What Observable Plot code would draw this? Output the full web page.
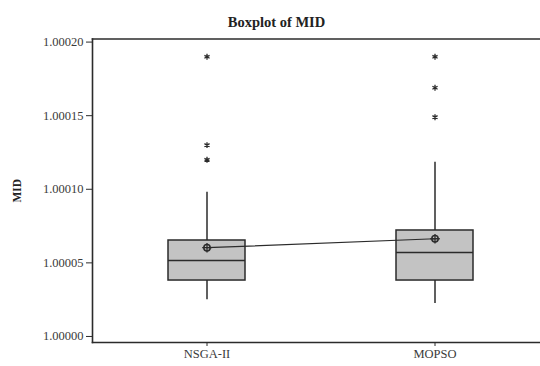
<!DOCTYPE html>
<html>
<head>
<meta charset="utf-8">
<script src="https://cdn.jsdelivr.net/npm/d3@7"></script>
<script src="https://cdn.jsdelivr.net/npm/@observablehq/plot@0.6"></script>
<style>
  html, body { margin: 0; padding: 0; background: #fff; }
  #chart svg { display: block; }
</style>
</head>
<body>
<div id="chart"></div>
<script>
const categories = ["NSGA-II", "MOPSO"];
const q1 = [1.0000380, 1.0000380];
const median = [1.0000516, 1.0000571];
const q3 = [1.0000652, 1.0000720];
const whiskerLow = [1.0000250, 1.0000224];
const whiskerHigh = [1.0000980, 1.0001184];
const means = [1.0000603, 1.0000664];
const outlierCategory = ["NSGA-II", "NSGA-II", "NSGA-II", "MOPSO", "MOPSO", "MOPSO"];
const outlierValue = [1.000190, 1.000130, 1.000120, 1.000190, 1.000169, 1.000149];
const yTicks = [1.00000, 1.00005, 1.00010, 1.00015, 1.00020];
const title = "Boxplot of MID";
const yLabel = "MID";

const stats = categories.map((c, i) => ({
  name: c, q1: q1[i], median: median[i], q3: q3[i],
  lo: whiskerLow[i], hi: whiskerHigh[i], mean: means[i]
}));
const outliers = outlierCategory.map((c, i) => ({name: c, value: outlierValue[i]}));

const ink = "#2b2b2b";
const chart = Plot.plot({
  width: 540,
  height: 366,
  marginTop: 38.5,
  marginBottom: 24,
  marginLeft: 92,
  marginRight: 0,
  style: {fontFamily: "'Liberation Serif', 'Times New Roman', serif", fontSize: "12.5px", color: "#3a3a3a", background: "#fff"},
  x: {type: "band", domain: categories, range: [168.2, 473.5], paddingInner: 0.663, paddingOuter: 0, label: null},
  y: {domain: [0.9999959, 1.0002021], label: null},
  marks: [
    Plot.frame({anchor: "top", stroke: ink, strokeWidth: 1.6}),
    Plot.frame({anchor: "bottom", stroke: ink, strokeWidth: 1.6}),
    Plot.frame({anchor: "left", stroke: ink, strokeWidth: 1.6}),
    Plot.axisY({ticks: yTicks, tickFormat: d3.format(".5f"), tickSize: 6, tickPadding: 3, label: null, stroke: ink}),
    Plot.axisX({tickSize: 4, tickPadding: 3, label: null, stroke: ink}),
    Plot.ruleX(stats, {x: "name", y1: "q3", y2: "hi", stroke: ink, strokeWidth: 1.5}),
    Plot.ruleX(stats, {x: "name", y1: "lo", y2: "q1", stroke: ink, strokeWidth: 1.5}),
    Plot.barY(stats, {x: "name", y1: "q1", y2: "q3", fill: "#c3c3c3", stroke: ink, strokeWidth: 1.5}),
    Plot.tickY(stats, {x: "name", y: "median", stroke: ink, strokeWidth: 1.5}),
    Plot.line(stats, {x: "name", y: "mean", stroke: ink, strokeWidth: 1.2}),
    Plot.dot(stats, {x: "name", y: "mean", r: 3.2, stroke: ink, strokeWidth: 1.5, fill: "none"}),
    Plot.dot(stats, {x: "name", y: "mean", r: 3.2, symbol: "plus", stroke: ink, strokeWidth: 1.3}),
    Plot.dot(outliers, {x: "name", y: "value", r: 2.8, symbol: "asterisk", stroke: ink, strokeWidth: 1.3}),
    Plot.text([title], {frameAnchor: "top-left", dx: 184, dy: -22.5, text: d => d, textAnchor: "middle", fontWeight: "bold", fontSize: 14.5, fill: "#222"}),
    Plot.text([yLabel], {frameAnchor: "left", dx: -75, rotate: -90, text: d => d, textAnchor: "middle", fontWeight: "bold", fontSize: 11.5, fill: "#222"})
  ]
});
document.getElementById("chart").appendChild(chart);
</script>
</body>
</html>
